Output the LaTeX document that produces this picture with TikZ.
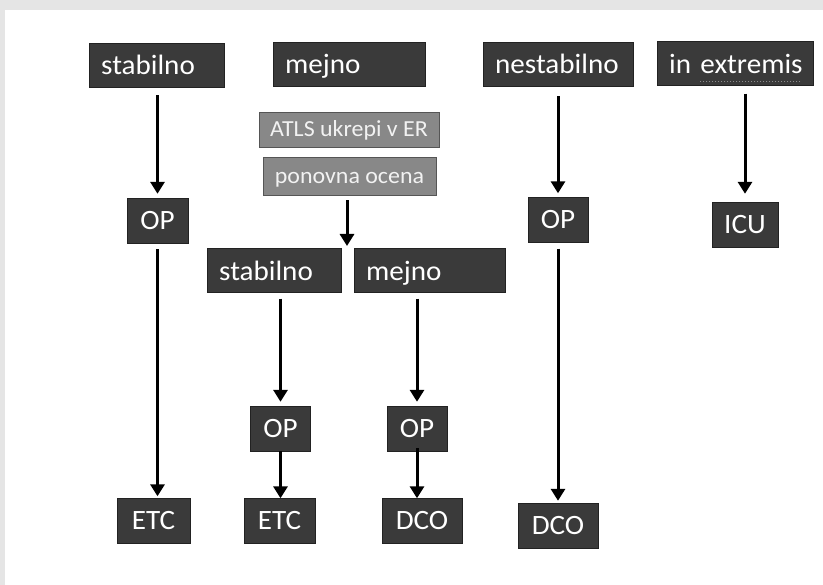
\documentclass[tikz,border=0pt]{standalone}
\usepackage{fontspec}
\usetikzlibrary{arrows.meta}
\newfontfamily\carl[FakeStretch=1.04]{Carlito}
\newcommand\stfont{\carl\fontsize{28}{32}\selectfont}
\newcommand\acfont{\carl\fontsize{23}{26}\selectfont}
\definecolor{boxdark}{HTML}{3A3A3A}
\definecolor{boxline}{HTML}{222222}
\definecolor{boxgray}{HTML}{888888}
\definecolor{grayline}{HTML}{555555}
\tikzset{
	state/.style={draw=boxline, fill=boxdark, text=white, font=\stfont, anchor=west,
		minimum height=44pt, inner xsep=12pt, inner ysep=0pt, align=left,
		text height=21pt, text depth=1pt},
	result/.style={draw=boxline, fill=boxdark, text=white, font=\stfont,
		minimum height=45pt, inner sep=0pt},
	action/.style={draw=grayline, fill=boxgray, text=white!95!black, font=\acfont,
		inner sep=0pt, text height=15pt, text depth=0pt},
	flow/.style={line width=3pt, -{Triangle[width=14pt,length=12pt]},
		shorten <=6pt, shorten >=4pt}
}
\begin{document}
\begin{tikzpicture}[x=1pt,y=-1pt]
	\useasboundingbox (0,0) rectangle (823,585);
	\fill[black!10] (0,0) rectangle (823,585);
	\fill[white] (5,10) rectangle (823,585);
	% first row
	\node[state,text width=111pt] (s1) at (89,65) {stabilno};
	\node[state,text width=128pt] (m1) at (273,64) {mejno};
	\node[state,text width=126pt] (n1) at (483,64) {nestabilno};
	\node[state,text width=132pt] (e1) at (657,63.5) {\mbox{in extremis}};
	\draw[black!45,dotted,line width=1pt] ([xshift=-13pt,yshift=4pt]e1.south east) -- ++(-100,0);
	% measures in ER
	\node[action,minimum width=180pt,minimum height=35pt] (atls) at (349,129.5) {ATLS ukrepi v ER};
	\node[action,minimum width=173pt,minimum height=38pt] (ocena) at (349.5,176) {ponovna ocena};
	\coordinate (split) at (347,250);
	\node[state,text width=110pt] (s2) at (207,270.5) {stabilno};
	\node[state,text width=127pt] (m2) at (354,270.5) {mejno};
	% operations and outcomes
	\node[result,minimum width=61pt] (op1) at (157.5,220.5) {OP};
	\node[result,minimum width=60pt] (op2) at (558,220) {OP};
	\node[result,minimum width=66pt] (icu) at (745,224.5) {ICU};
	\node[result,minimum width=60pt] (op3) at (280.5,428.5) {OP};
	\node[result,minimum width=60pt] (op4) at (417,428.5) {OP};
	\node[result,minimum width=73pt] (etc1) at (153.5,521) {ETC};
	\node[result,minimum width=71pt] (etc2) at (279.5,521) {ETC};
	\node[result,minimum width=80pt] (dco1) at (422,521) {DCO};
	\node[result,minimum width=80pt] (dco2) at (558,525.5) {DCO};
	% arrows
	\draw[flow,shorten <=8pt] (s1.south -| op1.north) -- (op1.north);
	\draw[flow,shorten <=10pt] (n1.south -| op2.north) -- (op2.north);
	\draw[flow,shorten <=8pt,shorten >=8pt] (e1.south -| icu.north) -- (icu.north);
	\draw[flow,shorten <=5pt] (ocena.south -| split) -- (split);
	\draw[flow] (s2.south -| op3.north) -- (op3.north);
	\draw[flow] (m2.south -| op4.north) -- (op4.north);
	\draw[flow,shorten >=2pt] (op1.south) -- (op1.south |- etc1.north);
	\draw[flow,shorten >=2pt] (op2.south) -- (op2.south |- dco2.north);
	\draw[flow,shorten <=0pt,shorten >=0pt] (op3.south) -- (op3.south |- etc2.north);
	\draw[flow,shorten <=-3pt,shorten >=0pt] (op4.south) -- (op4.south |- dco1.north);
\end{tikzpicture}
\end{document}
